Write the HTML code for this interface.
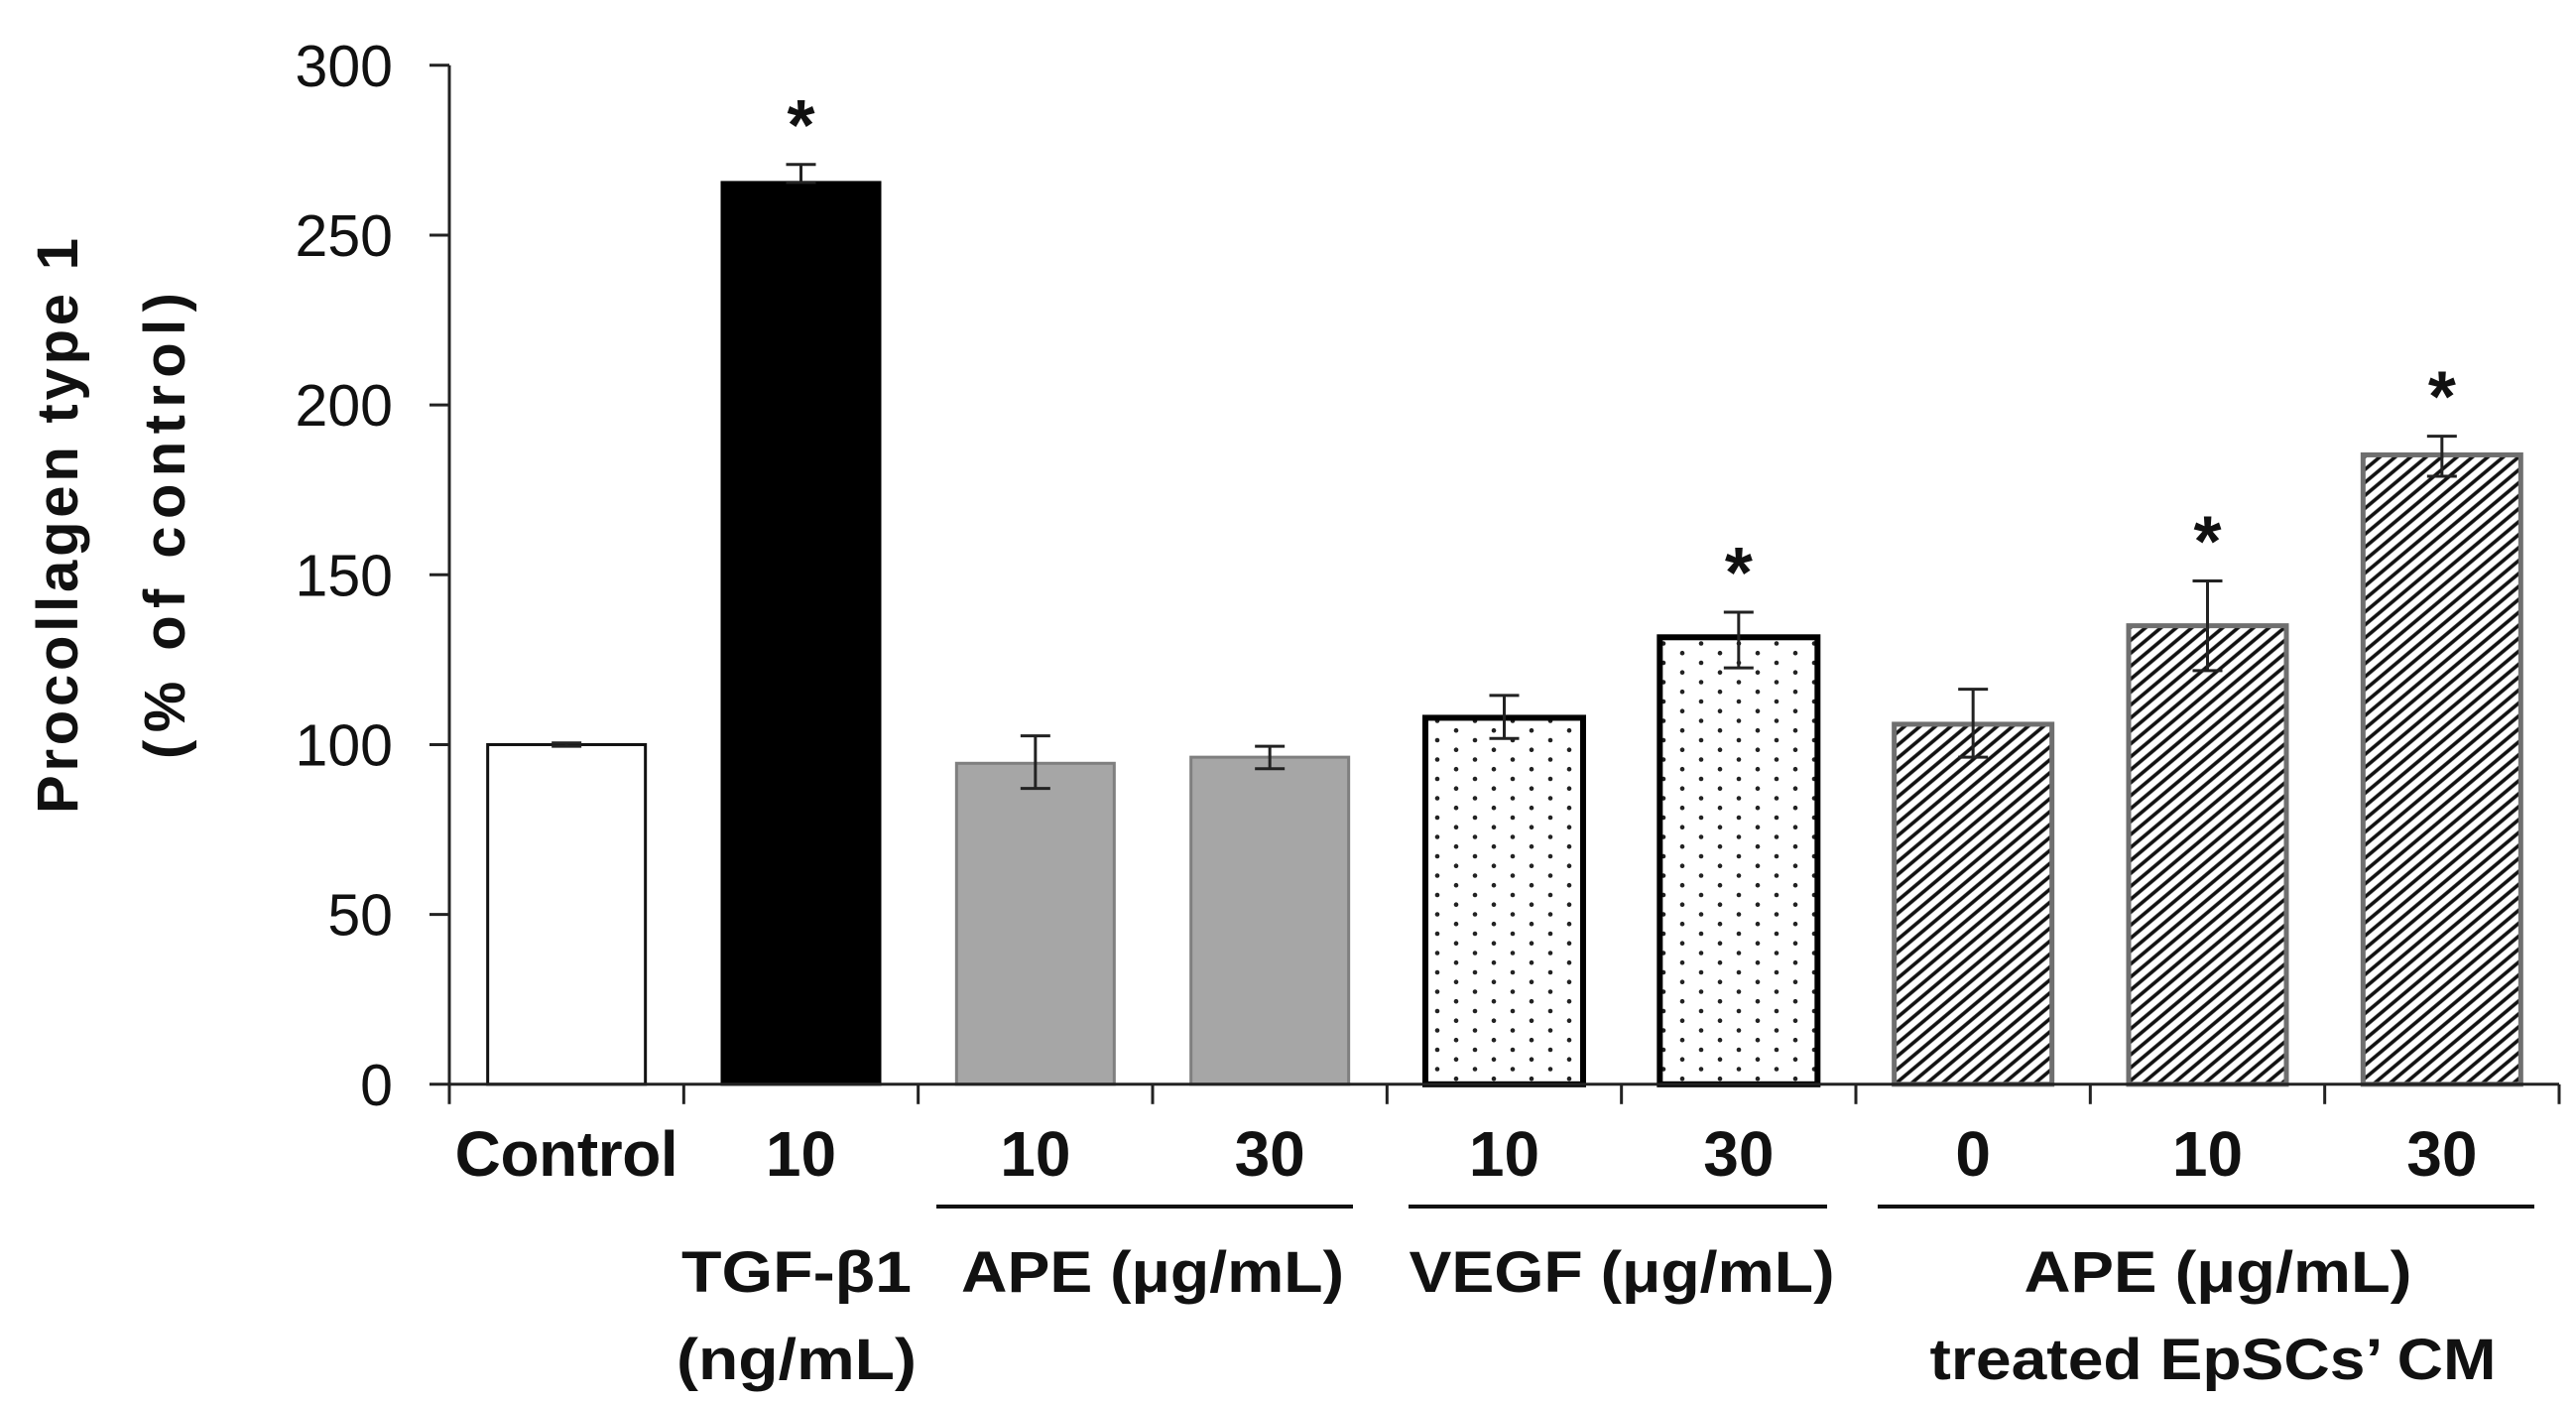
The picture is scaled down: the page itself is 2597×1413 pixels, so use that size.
<!DOCTYPE html>
<html><head><meta charset="utf-8"><style>
html,body{margin:0;padding:0;background:#fff;}
svg{display:block;}
text{font-family:"Liberation Sans",sans-serif;fill:#111;}
</style></head><body>
<svg id="chart" width="2597" height="1413" viewBox="0 0 2597 1413" xmlns="http://www.w3.org/2000/svg">
<defs>
<pattern id="dots" patternUnits="userSpaceOnUse" width="38" height="19.5">
<circle cx="5" cy="5" r="2.3" fill="#222"/>
<circle cx="24" cy="14.7" r="2.3" fill="#222"/>
</pattern>
<pattern id="hatch" patternUnits="userSpaceOnUse" width="10" height="10" patternTransform="rotate(-40)">
<rect width="10" height="10" fill="#fff"/>
<line x1="0" y1="5" x2="10" y2="5" stroke="#111" stroke-width="3.6"/>
</pattern>
</defs>
<g id="plot"></g>
</svg>
<script>
const categories = ["Control","10","10","30","10","30","0","10","30"];
const values = [100, 265.5, 94.5, 96.3, 107.9, 131.6, 106, 135, 185.3];
const errHigh = [100.5, 270.8, 102.6, 99.5, 114.5, 139, 116.3, 148.2, 190.8];
const errLow = [99.5, 265.5, 87.1, 92.9, 101.8, 122.6, 96.3, 121.8, 179];
const significant = [false, true, false, false, false, true, false, true, true];
const yTicks = [0, 50, 100, 150, 200, 250, 300];

const NS = "http://www.w3.org/2000/svg";
const g = document.getElementById('plot');
const x0 = 453, x1 = 2580, yBase = 1092.8, yTop = 65.8, yMax = 300;
const step = (x1 - x0) / categories.length;
const barW = 159;
function y(v){ return yBase - (v / yMax) * (yBase - yTop); }
function xc(i){ return x0 + step * (i + 0.5); }
function el(tag, attrs, parent){
  const e = document.createElementNS(NS, tag);
  for (const k in attrs) e.setAttribute(k, attrs[k]);
  (parent || g).appendChild(e);
  return e;
}
const styles = [
  {fill:"#fff", stroke:"#111", sw:3},
  {fill:"#000", stroke:"#000", sw:3},
  {fill:"#a6a6a6", stroke:"#7f7f7f", sw:3},
  {fill:"#a6a6a6", stroke:"#7f7f7f", sw:3},
  {fill:"url(#dots)", stroke:"#000", sw:6},
  {fill:"url(#dots)", stroke:"#000", sw:6},
  {fill:"url(#hatch)", stroke:"#6f6f6f", sw:5},
  {fill:"url(#hatch)", stroke:"#6f6f6f", sw:5},
  {fill:"url(#hatch)", stroke:"#6f6f6f", sw:5}
];
values.forEach((v, i) => {
  const s = styles[i];
  const r = el('rect', {x: xc(i) - barW/2, y: y(v), width: barW, height: yBase - y(v), fill: s.fill, stroke: s.stroke, 'stroke-width': s.sw});
  
  
});
values.forEach((v, i) => {
  const eg = el('g', {stroke:"#222", 'stroke-width':3});
  
  
  const cx = xc(i);
  el('line', {x1:cx, x2:cx, y1:y(errHigh[i]), y2:y(errLow[i])}, eg);
  el('line', {x1:cx-15, x2:cx+15, y1:y(errHigh[i]), y2:y(errHigh[i])}, eg);
  el('line', {x1:cx-15, x2:cx+15, y1:y(errLow[i]), y2:y(errLow[i])}, eg);
  if (significant[i]) {
    const st = el('text', {x:cx, y:y(errHigh[i]) - 15, 'text-anchor':'middle', 'font-size':72, 'font-weight':'bold'});
    st.textContent = '*';
    
    
  }
});
const ax = el('g', {stroke:"#222", 'stroke-width':3});


el('line', {x1:x0, x2:x0, y1:yTop, y2:yBase}, ax);
el('line', {x1:x0, x2:x1, y1:yBase, y2:yBase}, ax);
yTicks.forEach(t => {
  el('line', {x1:x0-20, x2:x0, y1:y(t), y2:y(t)}, ax);
  const tl = el('text', {x:396, y:y(t) + 21, 'text-anchor':'end', 'font-size':59});
  tl.textContent = t;
  
  
});
for (let i = 0; i <= categories.length; i++) {
  el('line', {x1:x0 + step*i, x2:x0 + step*i, y1:yBase, y2:yBase + 20}, ax);
}
categories.forEach((c, i) => {
  const t = el('text', {x:xc(i), y:1185, 'text-anchor':'middle', 'font-size':64, 'font-weight':'bold'});
  t.textContent = c;
  if (c === 'Control') t.setAttribute('textLength', 225);
  
  
});
</script>
<script>
(function(){
  const NS = "http://www.w3.org/2000/svg";
  const svg = document.getElementById('chart');
  function add(tag, attrs, txt, name){
    const e = document.createElementNS(NS, tag);
    for (const k in attrs) e.setAttribute(k, attrs[k]);
    if (txt) e.textContent = txt;
    
    
    svg.appendChild(e); return e;
  }
  add('line', {x1:944, x2:1364, y1:1216, y2:1216, stroke:'#111', 'stroke-width':4}, null, 'ape-group-line');
  add('line', {x1:1420, x2:1842, y1:1216, y2:1216, stroke:'#111', 'stroke-width':4}, null, 'vegf-group-line');
  add('line', {x1:1893, x2:2555, y1:1216, y2:1216, stroke:'#111', 'stroke-width':4}, null, 'cm-group-line');
  const f = {'font-size':58, 'font-weight':'bold', 'text-anchor':'middle', lengthAdjust:'spacingAndGlyphs'};
  add('text', Object.assign({x:803, y:1302, textLength:232}, f), 'TGF-β1', 'tgf-group-label');
  add('text', Object.assign({x:803, y:1390, textLength:242}, f), '(ng/mL)', 'tgf-unit-label');
  add('text', Object.assign({x:1162, y:1302, textLength:386}, f), 'APE (μg/mL)', 'ape-group-label');
  add('text', Object.assign({x:1635, y:1302, textLength:429}, f), 'VEGF (μg/mL)', 'vegf-group-label');
  add('text', Object.assign({x:2236, y:1302, textLength:391}, f), 'APE (μg/mL)', 'cm-group-label');
  add('text', Object.assign({x:2231, y:1390, textLength:571}, f), 'treated EpSCs’ CM', 'cm-group-label-2');
  add('text', {x:0, y:0, 'font-size':58, 'font-weight':'bold', 'text-anchor':'middle', transform:'translate(78,530) rotate(-90)', textLength:580}, 'Procollagen type 1', 'y-axis-title');
  add('text', {x:0, y:0, 'font-size':58, 'font-weight':'bold', 'text-anchor':'middle', transform:'translate(186,530) rotate(-90)', textLength:470}, '(% of control)', 'y-axis-title-unit');
})();
</script>
</body></html>
